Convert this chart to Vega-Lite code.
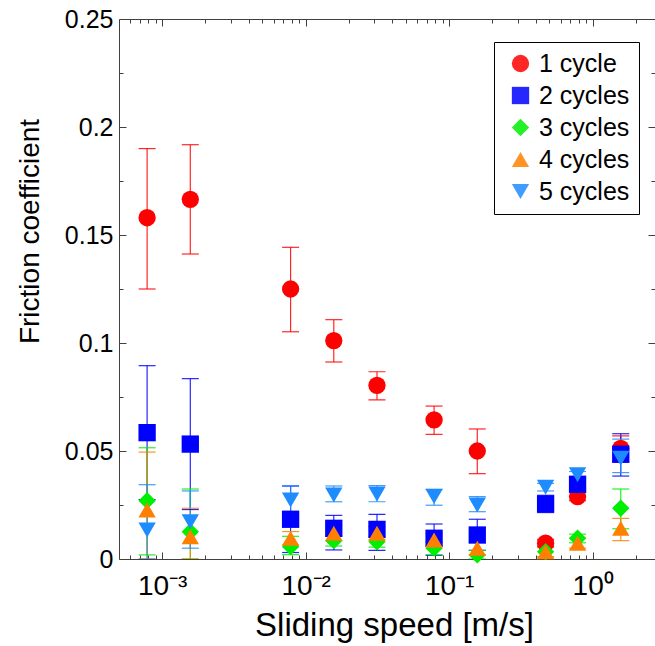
{
  "$schema": "https://vega.github.io/schema/vega-lite/v6.json",
  "width": 536,
  "height": 540,
  "autosize": {"type": "none"},
  "padding": {"left": 119, "top": 19, "right": 0, "bottom": 87},
  "background": "white",
  "config": {"font": "Liberation Sans", "view": {"stroke": null}},
  "data": {
    "values": [
      {"speed": 0.000785, "series": "1 cycle", "mu": 0.158, "lo": 0.125, "hi": 0.190},
      {"speed": 0.00157, "series": "1 cycle", "mu": 0.1665, "lo": 0.1412, "hi": 0.1918},
      {"speed": 0.00785, "series": "1 cycle", "mu": 0.125, "lo": 0.1052, "hi": 0.1443},
      {"speed": 0.0157, "series": "1 cycle", "mu": 0.1011, "lo": 0.0912, "hi": 0.1108},
      {"speed": 0.0314, "series": "1 cycle", "mu": 0.0804, "lo": 0.0737, "hi": 0.0867},
      {"speed": 0.0785, "series": "1 cycle", "mu": 0.0644, "lo": 0.0577, "hi": 0.0708},
      {"speed": 0.157, "series": "1 cycle", "mu": 0.0500, "lo": 0.0395, "hi": 0.0602},
      {"speed": 0.47, "series": "1 cycle", "mu": 0.0073, "lo": 0.0055, "hi": 0.0091},
      {"speed": 0.785, "series": "1 cycle", "mu": 0.0289, "lo": 0.027, "hi": 0.031},
      {"speed": 1.57, "series": "1 cycle", "mu": 0.0512, "lo": 0.045, "hi": 0.057},
      {"speed": 0.000785, "series": "2 cycles", "mu": 0.0585, "lo": 0.0275, "hi": 0.0895},
      {"speed": 0.00157, "series": "2 cycles", "mu": 0.0532, "lo": 0.0229, "hi": 0.0835},
      {"speed": 0.00785, "series": "2 cycles", "mu": 0.0184, "lo": 0.003, "hi": 0.0338},
      {"speed": 0.0157, "series": "2 cycles", "mu": 0.0142, "lo": 0.0042, "hi": 0.0202},
      {"speed": 0.0314, "series": "2 cycles", "mu": 0.0137, "lo": 0.004, "hi": 0.0207},
      {"speed": 0.0785, "series": "2 cycles", "mu": 0.0096, "lo": 0.0017, "hi": 0.0162},
      {"speed": 0.157, "series": "2 cycles", "mu": 0.0111, "lo": 0.004, "hi": 0.0184},
      {"speed": 0.47, "series": "2 cycles", "mu": 0.0255, "lo": 0.0215, "hi": 0.0295},
      {"speed": 0.785, "series": "2 cycles", "mu": 0.0346, "lo": 0.032, "hi": 0.037},
      {"speed": 1.57, "series": "2 cycles", "mu": 0.0485, "lo": 0.0384, "hi": 0.058},
      {"speed": 0.000785, "series": "3 cycles", "mu": 0.027, "lo": 0.0019, "hi": 0.0515},
      {"speed": 0.00157, "series": "3 cycles", "mu": 0.0126, "lo": 0, "hi": 0.0324},
      {"speed": 0.00785, "series": "3 cycles", "mu": 0.0057, "lo": 0.002, "hi": 0.0105},
      {"speed": 0.0157, "series": "3 cycles", "mu": 0.0085, "lo": 0.006, "hi": 0.011},
      {"speed": 0.0314, "series": "3 cycles", "mu": 0.008, "lo": 0.0055, "hi": 0.0105},
      {"speed": 0.0785, "series": "3 cycles", "mu": 0.005, "lo": 0.002, "hi": 0.008},
      {"speed": 0.157, "series": "3 cycles", "mu": 0.0019, "lo": 0, "hi": 0.004},
      {"speed": 0.47, "series": "3 cycles", "mu": 0.0034, "lo": 0.001, "hi": 0.006},
      {"speed": 0.785, "series": "3 cycles", "mu": 0.0096, "lo": 0.0075, "hi": 0.0115},
      {"speed": 1.57, "series": "3 cycles", "mu": 0.0235, "lo": 0.014, "hi": 0.0324},
      {"speed": 0.000785, "series": "4 cycles", "mu": 0.0227, "lo": 0, "hi": 0.0495},
      {"speed": 0.00157, "series": "4 cycles", "mu": 0.0103, "lo": 0, "hi": 0.0235},
      {"speed": 0.00785, "series": "4 cycles", "mu": 0.0096, "lo": 0.0065, "hi": 0.0127},
      {"speed": 0.0157, "series": "4 cycles", "mu": 0.0119, "lo": 0.0085, "hi": 0.0155},
      {"speed": 0.0314, "series": "4 cycles", "mu": 0.0119, "lo": 0.009, "hi": 0.015},
      {"speed": 0.0785, "series": "4 cycles", "mu": 0.0088, "lo": 0.006, "hi": 0.0118},
      {"speed": 0.157, "series": "4 cycles", "mu": 0.005, "lo": 0.002, "hi": 0.008},
      {"speed": 0.47, "series": "4 cycles", "mu": 0.0034, "lo": 0.001, "hi": 0.006},
      {"speed": 0.785, "series": "4 cycles", "mu": 0.0073, "lo": 0.005, "hi": 0.0096},
      {"speed": 1.57, "series": "4 cycles", "mu": 0.0142, "lo": 0.0085, "hi": 0.0188},
      {"speed": 0.000785, "series": "5 cycles", "mu": 0.0134, "lo": 0, "hi": 0.0344},
      {"speed": 0.00157, "series": "5 cycles", "mu": 0.0173, "lo": 0.005, "hi": 0.0315},
      {"speed": 0.00785, "series": "5 cycles", "mu": 0.0273, "lo": 0.021, "hi": 0.0338},
      {"speed": 0.0157, "series": "5 cycles", "mu": 0.0296, "lo": 0.0265, "hi": 0.0338},
      {"speed": 0.0314, "series": "5 cycles", "mu": 0.0301, "lo": 0.0265, "hi": 0.034},
      {"speed": 0.0785, "series": "5 cycles", "mu": 0.0289, "lo": 0.0249, "hi": 0.0323},
      {"speed": 0.157, "series": "5 cycles", "mu": 0.025, "lo": 0.0219, "hi": 0.0289},
      {"speed": 0.47, "series": "5 cycles", "mu": 0.0332, "lo": 0.0315, "hi": 0.035},
      {"speed": 0.785, "series": "5 cycles", "mu": 0.039, "lo": 0.0375, "hi": 0.0405},
      {"speed": 1.57, "series": "5 cycles", "mu": 0.0466, "lo": 0.040, "hi": 0.0555}
    ]
  },
  "layer": [
    {
      "mark": {"type": "rule", "strokeWidth": 1.2, "clip": true, "opacity": 0.85},
      "encoding": {
        "x": {
          "field": "speed", "type": "quantitative",
          "scale": {"type": "log", "domain": [0.0005, 2.72], "nice": false},
          "axis": {
            "orient": "bottom",
            "title": "Sliding speed [m/s]",
            "titleFont": "Liberation Sans", "titleFontSize": 33, "titleFontWeight": "normal", "titleColor": "black",
            "titleX": 275, "titleY": 76, "titleBaseline": "alphabetic", "titleAlign": "center", "titleAnchor": null,
            "values": [0.0006, 0.0007, 0.0008, 0.0009, 0.001, 0.002, 0.003, 0.004, 0.005, 0.006, 0.007, 0.008, 0.009, 0.01, 0.02, 0.03, 0.04, 0.05, 0.06, 0.07, 0.08, 0.09, 0.1, 0.2, 0.3, 0.4, 0.5, 0.6, 0.7, 0.8, 0.9, 1, 2],
            "labelExpr": "datum.value == 0.001 ? '10⁻³' : datum.value == 0.01 ? '10⁻²' : datum.value == 0.1 ? '10⁻¹' : datum.value == 1 ? '10⁰' : ''",
            "labelFontSize": 28, "labelColor": "black", "labelPadding": 20, "labelFlush": false, "labelOverlap": false,
            "tickSize": {"condition": {"test": "datum.value == 0.001 || datum.value == 0.01 || datum.value == 0.1 || datum.value == 1", "value": -7}, "value": -4},
            "tickColor": "#404040", "domainColor": "#404040", "grid": false
          }
        },
        "y": {
          "field": "lo", "type": "quantitative",
          "scale": {"domain": [0, 0.25], "nice": false, "zero": true},
          "axis": {
            "orient": "left",
            "title": "Friction coefficient",
            "titleFont": "Liberation Sans", "titleFontSize": 28, "titleFontWeight": "normal", "titleColor": "black",
            "titleAngle": 270, "titleX": -81, "titleY": 212, "titleBaseline": "alphabetic", "titleAlign": "center", "titleAnchor": null,
            "values": [0, 0.025, 0.05, 0.075, 0.1, 0.125, 0.15, 0.175, 0.2, 0.225, 0.25],
            "labelExpr": "indexof([0, 0.05, 0.1, 0.15, 0.2, 0.25], datum.value) >= 0 ? format(datum.value, '~g') : ''",
            "labelFontSize": 25, "labelColor": "black", "labelPadding": 13, "labelFlush": false, "labelOverlap": false,
            "tickSize": {"condition": {"test": "indexof([0, 0.05, 0.1, 0.15, 0.2, 0.25], datum.value) >= 0", "value": -7}, "value": -4},
            "tickColor": "#404040", "domainColor": "#404040", "grid": false
          }
        },
        "y2": {"field": "hi"},
        "color": {
          "field": "series", "type": "nominal",
          "scale": {"domain": ["1 cycle", "2 cycles", "3 cycles", "4 cycles", "5 cycles"], "range": ["#ff0000", "#0000ff", "#00ee00", "#ff8000", "#1e8cff"]}
        }
      }
    },
    {
      "mark": {"type": "tick", "orient": "horizontal", "size": 17, "thickness": 1.2, "clip": true, "opacity": 0.85},
      "encoding": {
        "x": {"field": "speed", "type": "quantitative", "axis": null},
        "y": {"field": "lo", "type": "quantitative", "axis": null},
        "color": {"field": "series", "type": "nominal"}
      }
    },
    {
      "mark": {"type": "tick", "orient": "horizontal", "size": 17, "thickness": 1.2, "clip": true, "opacity": 0.85},
      "encoding": {
        "x": {"field": "speed", "type": "quantitative", "axis": null},
        "y": {"field": "hi", "type": "quantitative", "axis": null},
        "color": {"field": "series", "type": "nominal"}
      }
    },
    {
      "mark": {"type": "point", "filled": true, "size": 300, "opacity": 1, "strokeWidth": 0},
      "encoding": {
        "x": {"field": "speed", "type": "quantitative", "axis": null},
        "y": {"field": "mu", "type": "quantitative", "axis": null},
        "color": {
          "field": "series", "type": "nominal",
          "legend": {
            "title": null, "orient": "none", "legendX": 375, "legendY": 23,
            "strokeColor": "black", "fillColor": "white", "padding": 9,
            "labelFontSize": 25, "labelColor": "black", "labelFont": "Liberation Sans",
            "symbolSize": 300, "symbolStrokeWidth": 0, "rowPadding": 6, "labelOffset": 6, "symbolOffset": 5, "labelLimit": 300
          }
        },
        "shape": {
          "field": "series", "type": "nominal",
          "scale": {"domain": ["1 cycle", "2 cycles", "3 cycles", "4 cycles", "5 cycles"], "range": ["circle", "square", "diamond", "triangle-up", "triangle-down"]},
          "legend": {
            "title": null, "orient": "none", "legendX": 375, "legendY": 23,
            "strokeColor": "black", "fillColor": "white", "padding": 9,
            "labelFontSize": 25, "labelColor": "black", "labelFont": "Liberation Sans",
            "symbolSize": 300, "symbolStrokeWidth": 0, "rowPadding": 6, "labelOffset": 6, "symbolOffset": 5, "labelLimit": 300
          }
        }
      }
    },
    {
      "mark": {"type": "point", "opacity": 0},
      "encoding": {
        "x": {
          "field": "speed", "type": "quantitative",
          "axis": {
            "orient": "top", "title": null, "labels": false,
            "values": [0.0006, 0.0007, 0.0008, 0.0009, 0.001, 0.002, 0.003, 0.004, 0.005, 0.006, 0.007, 0.008, 0.009, 0.01, 0.02, 0.03, 0.04, 0.05, 0.06, 0.07, 0.08, 0.09, 0.1, 0.2, 0.3, 0.4, 0.5, 0.6, 0.7, 0.8, 0.9, 1, 2],
            "tickSize": {"condition": {"test": "datum.value == 0.001 || datum.value == 0.01 || datum.value == 0.1 || datum.value == 1", "value": -7}, "value": -4},
            "tickColor": "#404040", "domainColor": "#404040", "grid": false
          }
        },
        "y": {
          "field": "mu", "type": "quantitative",
          "axis": {
            "orient": "right", "title": null, "labels": false,
            "values": [0, 0.025, 0.05, 0.075, 0.1, 0.125, 0.15, 0.175, 0.2, 0.225, 0.25],
            "tickSize": {"condition": {"test": "indexof([0, 0.05, 0.1, 0.15, 0.2, 0.25], datum.value) >= 0", "value": -7}, "value": -4},
            "tickColor": "#404040", "domainColor": "#404040", "grid": false
          }
        }
      }
    }
  ],
  "resolve": {"axis": {"x": "independent", "y": "independent"}}
}
